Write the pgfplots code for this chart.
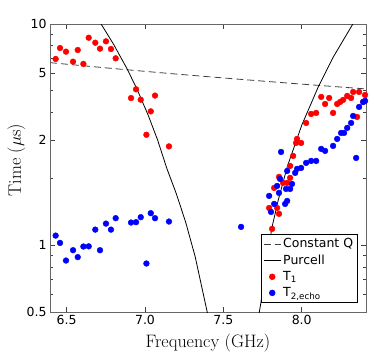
\documentclass[border=0pt]{standalone}
\usepackage{fontspec}
\usepackage{pgfplots}
\pgfplotsset{compat=1.18}
\newfontfamily\dejavu{DejaVu Sans}
\definecolor{framegray}{gray}{0.4}

\pgfplotstableread{
f T
6.430 6.95
6.458 7.79
6.496 7.50
6.541 6.76
6.571 7.63
6.607 6.60
6.641 8.67
6.683 8.23
6.713 7.74
6.751 8.35
6.783 7.71
6.813 7.00
6.911 4.63
6.943 5.07
6.973 4.55
7.009 3.16
7.037 4.03
7.064 4.75
7.153 2.80
7.811 1.187
7.792 1.476
7.843 1.476
7.855 1.388
7.824 1.818
7.855 2.039
7.881 1.915
7.907 1.915
7.926 2.018
7.926 2.285
7.945 2.536
7.964 2.903
7.970 3.026
7.996 2.903
8.028 3.573
8.060 3.925
8.092 3.966
8.124 4.684
8.149 4.354
8.175 4.634
8.200 3.966
8.226 4.354
8.245 4.445
8.264 4.539
8.290 4.731
8.315 4.634
8.328 4.932
8.353 3.804
8.366 4.932
8.392 4.445
8.404 4.781
}\tone

\pgfplotstableread{
f T
6.430 1.107
6.458 1.026
6.496 0.854
6.541 0.951
6.571 0.885
6.607 0.988
6.641 0.990
6.683 1.178
6.713 0.951
6.751 1.254
6.783 1.178
6.813 1.327
6.911 1.268
6.943 1.273
6.973 1.341
7.009 0.828
7.037 1.398
7.064 1.327
7.153 1.281
7.613 1.212
7.792 1.673
7.804 1.416
7.824 1.539
7.843 1.856
7.855 1.726
7.862 1.996
7.868 2.643
7.894 1.539
7.900 1.799
7.907 1.588
7.907 2.169
7.926 1.799
7.938 1.895
7.958 2.125
7.970 2.215
7.996 2.238
8.028 2.358
8.060 2.407
8.092 2.407
8.124 2.728
8.149 2.672
8.200 2.814
8.226 3.026
8.251 3.221
8.270 3.221
8.290 3.393
8.315 3.573
8.328 3.843
8.347 2.483
8.366 4.221
8.392 4.445
8.404 4.493
}\ttwo

\begin{document}
\begin{tikzpicture}
\begin{axis}[
  scale only axis, width=316pt, height=288pt,
  xmin=6.394, xmax=8.41,
  ymode=log, ymin=0.5, ymax=10,
  xtick={6.5,7.0,7.5,8.0},
  xticklabel style={/pgf/number format/fixed,
    /pgf/number format/precision=1,
    /pgf/number format/fixed zerofill},
  ytick={0.5,1,3,6,10},
  yticklabels={0.5,1,2,5,10},
  minor ytick={0.6,0.7,0.8,0.9,2,4,5,7,8,9},
  tick align=inside,
  major tick length=5pt, minor tick length=2.7pt,
  tick style={black!75, line width=0.5pt},
  axis line style={framegray, line width=0.8pt},
  ticklabel style={font=\dejavu\fontsize{12.5}{14}\selectfont},
  /pgf/number format/assume math mode=true,
  xlabel={Frequency (GHz)},
  ylabel={Time ($\mu$s)},
  label style={font=\fontsize{18}{20}\selectfont},
  xlabel style={at={(axis description cs:0.5,-0.1215)}, anchor=base},
  ylabel style={at={(axis description cs:-0.0918,0.528)}, anchor=base},
  clip=true,
  legend style={at={(axis description cs:1,0)}, anchor=south east,
    xshift=-8pt, yshift=9pt, draw=black, line width=0.6pt,
    font=\dejavu\fontsize{12.5}{14}\selectfont,
    inner sep=2.5pt, row sep=1.5pt},
  legend cell align=left,
]
% constant Q
\addplot[black!75, line width=0.8pt, dash pattern=on 7pt off 4pt] coordinates {
  (6.394,6.69) (6.8,6.29) (7.2,5.94) (7.6,5.63) (8.0,5.35) (8.41,5.09)
};
\addlegendentry{Constant Q}

% Purcell limit, left branch
\addplot[black, line width=0.8pt] coordinates {
  (6.700,10.5) (6.720,10.0) (6.800,8.09) (6.887,6.25) (6.950,5.06)
  (7.020,3.88) (7.080,3.00) (7.139,2.23) (7.200,1.71) (7.260,1.27)
  (7.320,0.89) (7.394,0.511) (7.400,0.49)
};
\addlegendentry{Purcell}
% right branch
\addplot[black, line width=0.8pt, forget plot] coordinates {
  (7.725,0.48) (7.739,0.548) (7.760,0.716) (7.809,1.196) (7.850,1.60)
  (7.908,2.27) (8.000,3.49) (8.106,5.21) (8.200,7.07) (8.326,10.0)
  (8.350,10.6)
};

\addplot[only marks, mark=*, mark size=2.9pt, red, mark options={draw=red, fill=red}]
  table[x=f, y=T] {\tone};
\addlegendentry{T\textsubscript{1}}
\addplot[only marks, mark=*, mark size=2.9pt, blue, mark options={draw=blue, fill=blue}]
  table[x=f, y=T] {\ttwo};
\addlegendentry{T\textsubscript{2,echo}}
\end{axis}
\pgfresetboundingbox
\path (current axis.south west) ++(-50pt,-50pt) rectangle ([xshift=8pt,yshift=24pt]current axis.north east);
\end{tikzpicture}
\end{document}
